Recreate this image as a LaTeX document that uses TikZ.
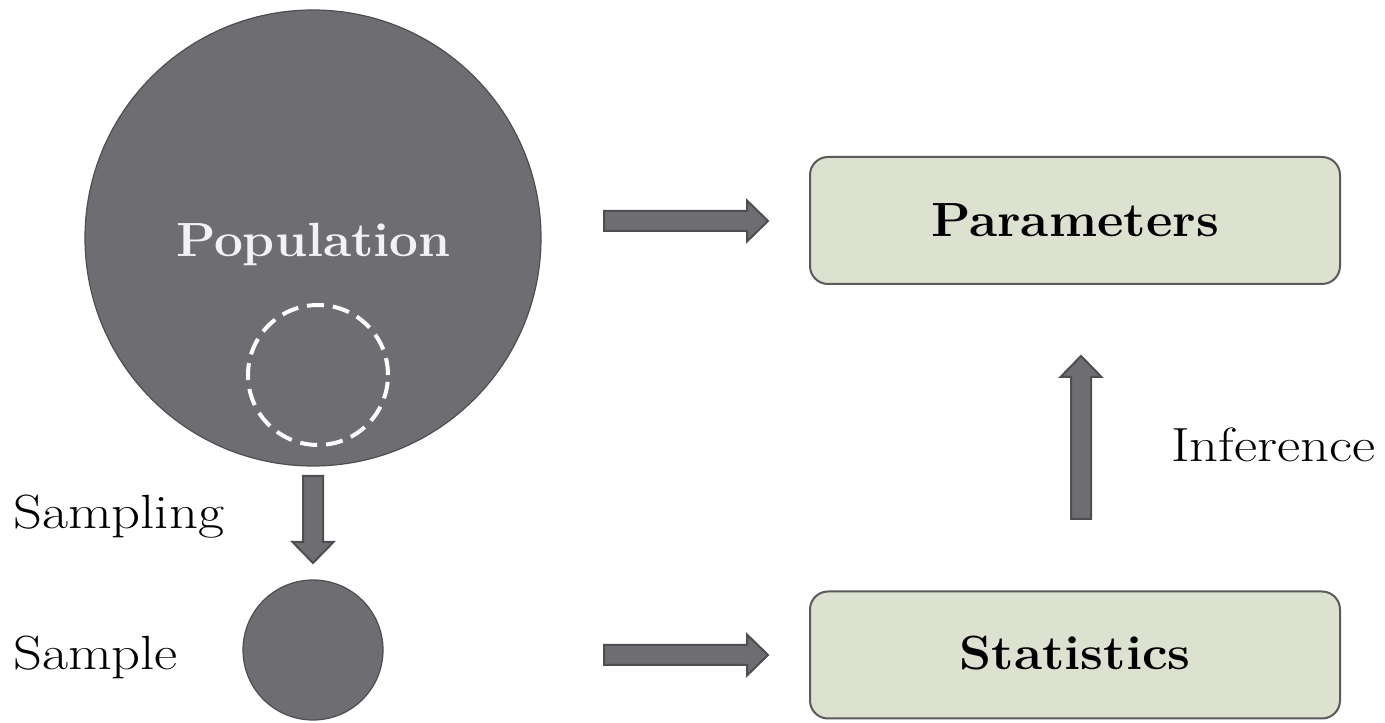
\documentclass[tikz,border=0pt]{standalone}
\usepackage{graphicx}
\usetikzlibrary{calc}
\definecolor{discfill}{HTML}{6E6D72}
\definecolor{discedge}{HTML}{4E4E52}
\definecolor{boxfill}{HTML}{DCE1D0}
\definecolor{boxedge}{HTML}{5A5A5A}
\definecolor{poptext}{HTML}{F2F2F2}
% wide set text: regular and bold at 48pt, stretched horizontally
\newcommand\widereg[1]{\scalebox{1.18}[1]{#1}}
\newcommand\widebold[1]{\scalebox{1.07}[1]{#1}}
\tikzset{
  disc/.style={circle, fill=discfill, draw=discedge, line width=1.2pt, inner sep=0pt},
  samplering/.style={circle, draw=white, line width=4pt, dash pattern=on 17pt off 9pt, inner sep=0pt},
  infobox/.style={rounded corners=18pt, fill=boxfill, draw=boxedge, line width=2pt,
    minimum width=530pt, minimum height=127pt, inner sep=0pt},
  boldlabel/.style={font=\fontsize{48}{56}\selectfont\bfseries, inner sep=0pt, anchor=base},
  plainlabel/.style={font=\fontsize{48}{56}\selectfont, inner sep=0pt, anchor=base west},
  blockarrow/.style={fill=discfill, draw=discedge, line width=2pt, line join=miter},
}
% block arrow from #1 to #2: shaft 20pt wide, head 41pt wide and 21pt long
\newcommand\blockarrowpath[2]{%
  \coordinate (#1-h) at ($(#2)!21pt!(#1)$);
  \draw[blockarrow] ($(#1)!10pt!90:(#2)$) -- ($(#1-h)!10pt!90:(#2)$)
    -- ($(#1-h)!20.5pt!90:(#2)$) -- (#2) -- ($(#1-h)!20.5pt!-90:(#2)$)
    -- ($(#1-h)!10pt!-90:(#2)$) -- ($(#1)!10pt!-90:(#2)$) -- cycle;
}
\begin{document}
\begin{tikzpicture}[x=1pt, y=1pt]
  \useasboundingbox (0,0) rectangle (1385,723);

  % population with the sampled part inside it
  \node[disc, minimum size=456pt] (pop) at (313,485) {};
  \node[boldlabel, text=poptext] (poplabel) at (313.5,466) {\widebold{Population}};
  \node[samplering, minimum size=140pt] (ring) at (318,348) {};

  % the sample
  \node[disc, minimum size=140pt] (sample) at (313,73) {};

  % parameters and statistics
  \node[infobox] (params) at (1075,502.5) {};
  \node[boldlabel] (paramlabel) at (1075,486) {\widebold{Parameters}};
  \node[infobox] (stats) at (1075,68) {};
  \node[boldlabel] (statlabel) at (1075,53) {\widebold{Statistics}};

  % labels
  \node[plainlabel] (samplinglabel) at (13,194) {\widereg{Sampling}};
  \node[plainlabel] (samplelabel) at (13,53) {\widereg{Sample}};
  \node[plainlabel] (inferencelabel) at (1171,261) {\widereg{Inference}};

  % arrow end points
  \coordinate (popout) at (604,502);
  \coordinate (parin) at (768,502);
  \coordinate (samout) at (604,68);
  \coordinate (statin) at (768,68);
  \coordinate (popdown) at (313,247);
  \coordinate (samin) at (313,160);
  \coordinate (statup) at (1081,204);
  \coordinate (parbelow) at (1081,367);

  \blockarrowpath{popout}{parin}
  \blockarrowpath{samout}{statin}
  \blockarrowpath{popdown}{samin}
  \blockarrowpath{statup}{parbelow}
\end{tikzpicture}
\end{document}
